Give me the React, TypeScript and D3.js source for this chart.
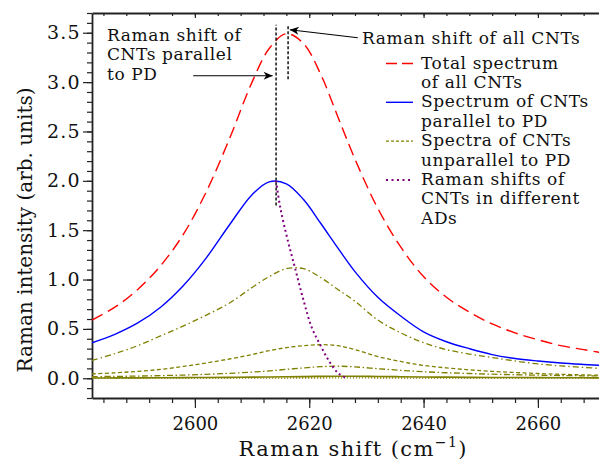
import React, { useEffect, useRef } from "react";
import * as d3 from "d3";

const WIDTH = 599;
const HEIGHT = 461;
const PLOT = { LEFT: 92, RIGHT: 606.5, TOP: 13, BOTTOM: 398 };
const FONT = "DejaVu Serif";

// Raman shift grid (cm^-1) shared by the spectra
const shifts = [
  2582, 2586, 2590, 2594, 2598, 2602, 2606, 2610, 2613, 2616, 2619, 2622, 2625,
  2628, 2632, 2636, 2640, 2644, 2648, 2652, 2656, 2660, 2664, 2668, 2672,
];
const totalSpectrum = [
  0.59, 0.72, 0.9, 1.14, 1.46, 1.89, 2.42, 3.0, 3.34, 3.49, 3.39, 3.08, 2.65,
  2.22, 1.72, 1.33, 1.03, 0.82, 0.67, 0.55, 0.46, 0.39, 0.33, 0.29, 0.25,
];
const parallelSpectrum = [
  0.36, 0.445, 0.56, 0.72, 0.94, 1.22, 1.55, 1.86, 1.99, 1.97, 1.81, 1.57, 1.32,
  1.08, 0.82, 0.63, 0.47, 0.37, 0.3, 0.24, 0.2, 0.175, 0.155, 0.14, 0.127,
];
const unparallelA = [
  0.18, 0.25, 0.33, 0.43, 0.53, 0.64, 0.76, 0.92, 1.03, 1.11, 1.11, 1.02, 0.9,
  0.78, 0.59, 0.46, 0.36, 0.29, 0.245, 0.21, 0.175, 0.145, 0.125, 0.11, 0.095,
];
const unparallelB = [
  0.044, 0.055, 0.07, 0.09, 0.12, 0.155, 0.195, 0.24, 0.28, 0.31, 0.33, 0.34,
  0.33, 0.29, 0.22, 0.17, 0.13, 0.105, 0.085, 0.07, 0.058, 0.048, 0.04, 0.034,
  0.03,
];
const unparallelC = [
  0.016, 0.019, 0.022, 0.027, 0.032, 0.04, 0.05, 0.062, 0.075, 0.09, 0.105,
  0.117, 0.122, 0.115, 0.097, 0.08, 0.066, 0.056, 0.048, 0.041, 0.036, 0.031,
  0.028, 0.025, 0.022,
];
const unparallelD = [
  0.003, 0.0035, 0.004, 0.005, 0.006, 0.0075, 0.009, 0.011, 0.013, 0.015,
  0.017, 0.019, 0.02, 0.02, 0.018, 0.016, 0.013, 0.011, 0.009, 0.008, 0.007,
  0.006, 0.005, 0.0045, 0.004,
];
const unparallelE = [
  0.0005, 0.0006, 0.0007, 0.0008, 0.001, 0.0012, 0.0014, 0.0017, 0.002,
  0.0023, 0.0026, 0.0028, 0.003, 0.003, 0.0028, 0.0025, 0.002, 0.0017, 0.0014,
  0.0012, 0.001, 0.0009, 0.0008, 0.0007, 0.0006,
];

// peak positions of the CNTs in the different ADs
const peakShiftX = [2614.2, 2614.9, 2616.1, 2617.5, 2619.0, 2620.4, 2621.9, 2623.4, 2625.1, 2626.6];
const peakShiftY = [2.0, 1.74, 1.43, 1.12, 0.79, 0.52, 0.34, 0.18, 0.05, 0.0];

// vertical markers: Raman shift of parallel CNTs / of all CNTs
const markerParallel = { x: 2614.2, y0: 1.75, y1: 3.58 };
const markerAll = { x: 2616.3, y0: 3.03, y1: 3.58 };
const arrowParallel = { x0: 2599.7, y0: 3.065, x1: 2613.6, y1: 3.065 };
const arrowAll = { x0: 2628.5, y0: 3.45, x1: 2616.6, y1: 3.53 };

const xMajorTicks = [2600, 2620, 2640, 2660];
const xMinorTicks = d3.range(2584, 2672, 4);
const yMajorTicks = [0, 0.5, 1, 1.5, 2, 2.5, 3, 3.5];
const yMinorTicks = d3.range(-2, 38).map((d) => d / 10);

const legendLabels = [
  ["Total spectrum", "of all CNTs"],
  ["Spectrum of CNTs", "parallel to PD"],
  ["Spectra of CNTs", "unparallel to PD"],
  ["Raman shifts of", "CNTs in different", "ADs"],
];

const OLIVE = "#808000";

export default function App() {
  const ref = useRef<SVGSVGElement>(null);

  useEffect(() => {
    const svg = d3.select(ref.current);
    svg.selectAll("*").remove();

    const x = d3.scaleLinear().domain([2582, 2672]).range([PLOT.LEFT, PLOT.RIGHT]);
    const y = d3.scaleLinear().domain([-0.2, 3.7]).range([PLOT.BOTTOM, PLOT.TOP]);

    const defs = svg.append("defs");
    defs.append("clipPath").attr("id", "plot-clip")
      .append("rect")
      .attr("x", PLOT.LEFT).attr("y", PLOT.TOP)
      .attr("width", WIDTH - PLOT.LEFT).attr("height", PLOT.BOTTOM - PLOT.TOP);
    defs.append("marker")
      .attr("id", "arrow")
      .attr("viewBox", "-10 -5 11 10")
      .attr("refX", 0).attr("refY", 0)
      .attr("markerUnits", "userSpaceOnUse")
      .attr("markerWidth", 11).attr("markerHeight", 10)
      .attr("orient", "auto")
      .append("path")
      .attr("d", "M0,0L-9,-4L-6.5,0L-9,4Z")
      .attr("fill", "#000");

    // ---- axes ----
    const axisColor = "#222";
    const styleAxis = (g) => {
      g.select(".domain").attr("stroke", axisColor).attr("stroke-width", 1.8);
      g.selectAll(".tick line").attr("stroke", axisColor).attr("stroke-width", 1.2);
      g.selectAll("text").attr("font-family", FONT).attr("font-size", 18).attr("fill", "#111");
    };

    svg.append("g")
      .attr("transform", `translate(0,${PLOT.BOTTOM})`)
      .call(d3.axisBottom(x).tickValues(xMinorTicks).tickSize(5).tickSizeOuter(0).tickFormat(() => ""))
      .call(styleAxis);
    svg.append("g")
      .attr("transform", `translate(0,${PLOT.BOTTOM})`)
      .call(d3.axisBottom(x).tickValues(xMajorTicks).tickSize(10).tickSizeOuter(0).tickPadding(9).tickFormat(d3.format("d")))
      .call(styleAxis)
      .call((g) => g.select(".domain").remove());

    svg.append("g")
      .attr("transform", `translate(0,${PLOT.TOP})`)
      .call(d3.axisBottom(x).tickValues(xMinorTicks).tickSize(3).tickSizeOuter(0).tickFormat(() => ""))
      .call(styleAxis);
    svg.append("g")
      .attr("transform", `translate(0,${PLOT.TOP})`)
      .call(d3.axisBottom(x).tickValues(xMajorTicks).tickSize(5).tickSizeOuter(0).tickFormat(() => ""))
      .call(styleAxis)
      .call((g) => g.select(".domain").remove());

    svg.append("g")
      .attr("transform", `translate(${PLOT.LEFT},0)`)
      .call(d3.axisLeft(y).tickValues(yMinorTicks).tickSize(5).tickSizeOuter(0).tickFormat(() => ""))
      .call(styleAxis);
    svg.append("g")
      .attr("transform", `translate(${PLOT.LEFT},0)`)
      .call(d3.axisLeft(y).tickValues(yMajorTicks).tickSize(9).tickSizeOuter(0).tickPadding(2).tickFormat(d3.format(".1f")))
      .call(styleAxis)
      .call((g) => g.select(".domain").remove())
      .call((g) => g.selectAll("text").attr("font-size", 19).attr("letter-spacing", 1.3));

    // axis titles
    const xTitle = svg.append("text")
      .attr("x", (PLOT.LEFT + PLOT.RIGHT) / 2 + 4)
      .attr("y", 456)
      .attr("text-anchor", "middle")
      .attr("font-family", FONT)
      .attr("font-size", 21)
      .attr("letter-spacing", 1.4)
      .attr("fill", "#111");
    xTitle.append("tspan").text("Raman shift (cm");
    xTitle.append("tspan").attr("font-size", 14).attr("dy", -9).text("−1");
    xTitle.append("tspan").attr("dy", 9).text(")");

    svg.append("text")
      .attr("transform", `translate(32,${230}) rotate(-90)`)
      .attr("text-anchor", "middle")
      .attr("font-family", FONT)
      .attr("font-size", 20)
      .attr("fill", "#111")
      .text("Raman intensity (arb. units)");

    // ---- curves ----
    const plot = svg.append("g").attr("clip-path", "url(#plot-clip)");
    const line = d3.line<number>()
      .x((d, i) => x(shifts[i]))
      .y((d) => y(d))
      .curve(d3.curveCatmullRom.alpha(0.5));

    const curves = [
      { data: unparallelE, color: OLIVE, width: 1.3, dash: "1.2,1.8" },
      { data: unparallelD, color: OLIVE, width: 1.6, dash: null },
      { data: unparallelC, color: OLIVE, width: 1.3, dash: "6,2.5,1.5,2.5" },
      { data: unparallelB, color: OLIVE, width: 1.3, dash: "4,2.5" },
      { data: unparallelA, color: OLIVE, width: 1.3, dash: "6,3,1.5,3" },
      { data: parallelSpectrum, color: "#0000ff", width: 1.4, dash: null },
      { data: totalSpectrum, color: "#ff0000", width: 1.4, dash: "12,6" },
    ];
    curves.forEach((c) => {
      plot.append("path")
        .attr("d", line(c.data))
        .attr("fill", "none")
        .attr("stroke", c.color)
        .attr("stroke-width", c.width)
        .attr("stroke-dasharray", c.dash);
    });

    const peakLine = d3.line<number>()
      .x((d) => x(d))
      .y((d, i) => y(peakShiftY[i]))
      .curve(d3.curveCatmullRom.alpha(0.5));
    plot.append("path")
      .attr("d", peakLine(peakShiftX))
      .attr("fill", "none")
      .attr("stroke", "#800080")
      .attr("stroke-width", 2)
      .attr("stroke-dasharray", "2,3");

    // vertical dashed markers
    [markerParallel, markerAll].forEach((m) => {
      svg.append("line")
        .attr("x1", x(m.x)).attr("x2", x(m.x))
        .attr("y1", y(m.y0)).attr("y2", y(m.y1))
        .attr("stroke", "#000")
        .attr("stroke-width", 1.4)
        .attr("stroke-dasharray", "3,2");
    });

    // arrows
    [arrowParallel, arrowAll].forEach((a) => {
      svg.append("line")
        .attr("x1", x(a.x0)).attr("y1", y(a.y0))
        .attr("x2", x(a.x1)).attr("y2", y(a.y1))
        .attr("stroke", "#000")
        .attr("stroke-width", 1.1)
        .attr("marker-end", "url(#arrow)");
    });

    // annotation texts
    const note = (lines, x0, y0) => {
      lines.forEach((t, i) => {
        svg.append("text")
          .attr("x", x0).attr("y", y0 + i * 19.4)
          .attr("font-family", FONT)
          .attr("font-size", 17)
          .attr("letter-spacing", 0.6)
          .attr("fill", "#111")
          .text(t);
      });
    };
    note(["Raman shift of", "CNTs parallel", "to PD"], 107, 41);
    note(["Raman shift of all CNTs"], 362, 43.5);

    // ---- legend ----
    const legendStyles = [
      { color: "#ff0000", dash: "11,5", width: 1.4 },
      { color: "#0000ff", dash: null, width: 1.4 },
      { color: OLIVE, dash: "3,2", width: 1.3 },
      { color: "#800080", dash: "2,3.5", width: 2 },
    ];
    let baseline = 68.5;
    legendLabels.forEach((labels, i) => {
      const s = legendStyles[i];
      svg.append("line")
        .attr("x1", 386).attr("x2", 413)
        .attr("y1", baseline - 5).attr("y2", baseline - 5)
        .attr("stroke", s.color)
        .attr("stroke-width", s.width)
        .attr("stroke-dasharray", s.dash);
      note(labels, 421, baseline);
      baseline += labels.length * 19.4;
    });
  }, []);

  return (
    <svg
      ref={ref}
      width={WIDTH}
      height={HEIGHT}
      style={{ position: "absolute", left: 0, top: 0, background: "#fff" }}
    />
  );
}
